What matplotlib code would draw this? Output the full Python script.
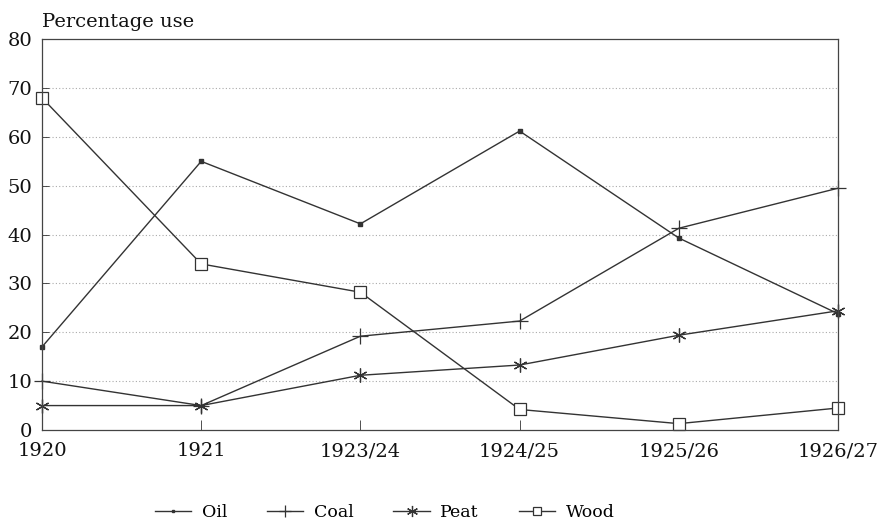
import matplotlib
matplotlib.use("Agg")
import matplotlib.pyplot as plt

categories = ["1920", "1921", "1923/24", "1924/25", "1925/26", "1926/27"]
oil = [17, 55, 42.2, 61.2, 39.3, 23.8]
coal = [10, 5, 19.2, 22.3, 41.3, 49.5]
peat = [5, 5, 11.2, 13.3, 19.4, 24.4]
wood = [68, 34, 28.2, 4.2, 1.3, 4.5]
yticks = [0, 10, 20, 30, 40, 50, 60, 70, 80]

plt.rcParams['font.family'] = ['DejaVu Serif']
fig = plt.figure(figsize=(8.84, 5.30), dpi=100)
ax = fig.add_axes([0.0475, 0.1887, 0.9005, 0.7373])

x = list(range(len(categories)))
col = '#333333'
asterisk = (6, 2, 0)
l1, = ax.plot(x, oil, color=col, lw=1.0, marker='s', ms=2.5, mfc=col, mec=col, label='Oil', clip_on=False)
l2, = ax.plot(x, coal, color=col, lw=1.0, marker='+', ms=11, mew=0.9, label='Coal', clip_on=False)
l3, = ax.plot(x, peat, color=col, lw=1.0, marker=asterisk, ms=10, mew=0.9, label='Peat', clip_on=False)
l4, = ax.plot(x, wood, color=col, lw=1.0, marker='s', ms=8, mfc='white', mec=col, mew=0.9, label='Wood', clip_on=False)

ax.set_xlim(0, len(categories) - 1)
ax.set_ylim(0, 80)
ax.set_yticks(yticks)
ax.set_xticks(x)
ax.set_xticklabels(categories)
for v in yticks[1:-1]:
    ax.axhline(v, color='#aaaaaa', lw=0.8, ls=(0, (1, 2)), zorder=0)
ax.tick_params(axis='both', direction='in', length=5, width=0.6, colors='#333333',
               labelsize=14, labelcolor='#111111')
ax.tick_params(axis='y', pad=7)
ax.tick_params(axis='x', pad=9, length=7)
for s in ax.spines.values():
    s.set_color('#444444')
    s.set_linewidth(0.9)

fig.text(0.0475, 0.949, 'Percentage use', fontsize=14, color='#111111', ha='left', va='baseline')

fig.legend(handles=[l1, l2, l3, l4], loc='lower center', bbox_to_anchor=(0.435, -0.012),
           ncol=4, frameon=False, fontsize=12.5, handlelength=2.1, columnspacing=2.3,
           handletextpad=0.6, markerscale=0.8)

fig.savefig('out.png', dpi=100)
